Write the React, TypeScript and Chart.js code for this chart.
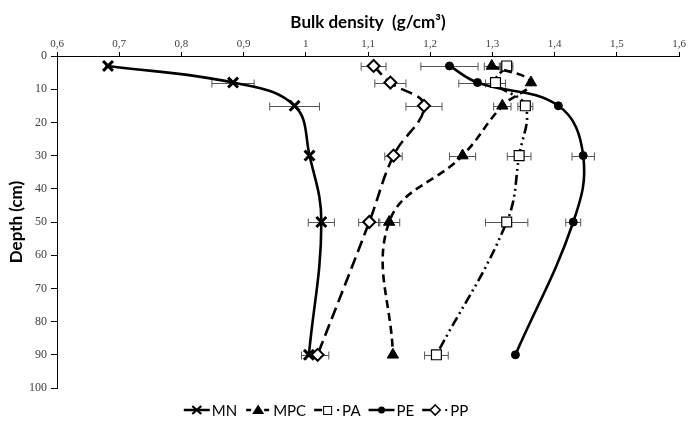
import React, { useEffect, useRef } from "react";
import { Chart, registerables } from "chart.js";

Chart.register(...registerables);

// ---------- data ----------
const depths = [3, 8, 15, 30, 50, 90];
const xTicks = [0.6, 0.7, 0.8, 0.9, 1.0, 1.1, 1.2, 1.3, 1.4, 1.5, 1.6];
const yTicks = [0, 10, 20, 30, 40, 50, 60, 70, 80, 90, 100];
const seriesNames = ["MN", "MPC", "PA", "PE", "PP"];

const mnDensity = [0.682, 0.883, 0.982, 1.006, 1.025, 1.005];
const mnError = [0.004, 0.034, 0.04, 0, 0.021, 0.012];
const mpcDensity = [1.299, 1.362, 1.316, 1.252, 1.134, 1.14];
const mpcError = [0.012, 0, 0.014, 0.021, 0.017, 0];
const paDensity = [1.323, 1.305, 1.353, 1.343, 1.323, 1.21];
const paError = [0.01, 0.016, 0.012, 0.019, 0.034, 0.019];
const peDensity = [1.231, 1.276, 1.406, 1.446, 1.43, 1.337];
const peError = [0.046, 0.03, 0, 0.018, 0.012, 0];
const ppDensity = [1.109, 1.136, 1.19, 1.141, 1.102, 1.019];
const ppError = [0.02, 0.025, 0.029, 0.014, 0.017, 0.018];

const densities = [mnDensity, mpcDensity, paDensity, peDensity, ppDensity];
const errors = [mnError, mpcError, paError, peError, ppError];

const fmt = (v: number) => String(Math.round(v * 10) / 10).replace(".", ",");

// ---------- plugins ----------
const errorBarPlugin = {
  id: "errorBars",
  beforeDatasetsDraw(chart: any) {
    const { ctx, scales } = chart;
    const xs = scales.x;
    const ys = scales.y;
    ctx.save();
    ctx.strokeStyle = "#555";
    ctx.lineWidth = 1;
    chart.data.datasets.forEach((ds: any) => {
      const errs: number[] = ds.errorValues || [];
      ds.data.forEach((p: any, i: number) => {
        const e = errs[i];
        if (!e) return;
        const py = Math.round(ys.getPixelForValue(p.y)) + 0.5;
        const x1 = xs.getPixelForValue(p.x - e);
        const x2 = xs.getPixelForValue(p.x + e);
        ctx.beginPath();
        ctx.moveTo(x1, py);
        ctx.lineTo(x2, py);
        ctx.moveTo(x1, py - 4);
        ctx.lineTo(x1, py + 4);
        ctx.moveTo(x2, py - 4);
        ctx.lineTo(x2, py + 4);
        ctx.stroke();
      });
    });
    ctx.restore();
  },
};

function drawSample(ctx: CanvasRenderingContext2D, idx: number, x: number, cy: number) {
  ctx.save();
  ctx.strokeStyle = "#000";
  ctx.fillStyle = "#000";
  ctx.lineWidth = 2.5;
  const w = 26;
  const cx = x + 13;
  if (idx === 0) {
    ctx.beginPath();
    ctx.moveTo(x, cy);
    ctx.lineTo(x + w, cy);
    ctx.stroke();
    ctx.lineWidth = 2.2;
    ctx.beginPath();
    ctx.moveTo(cx - 4.5, cy - 4);
    ctx.lineTo(cx + 4.5, cy + 4);
    ctx.moveTo(cx - 4.5, cy + 4);
    ctx.lineTo(cx + 4.5, cy - 4);
    ctx.stroke();
  } else if (idx === 1) {
    ctx.beginPath();
    ctx.moveTo(x + 1, cy);
    ctx.lineTo(x + 6, cy);
    ctx.moveTo(x + 19, cy);
    ctx.lineTo(x + 24, cy);
    ctx.stroke();
    ctx.beginPath();
    ctx.moveTo(cx, cy - 5.5);
    ctx.lineTo(cx + 6, cy + 4);
    ctx.lineTo(cx - 6, cy + 4);
    ctx.closePath();
    ctx.fill();
  } else if (idx === 2) {
    ctx.beginPath();
    ctx.moveTo(x, cy);
    ctx.lineTo(x + 8, cy);
    ctx.stroke();
    ctx.lineWidth = 1;
    ctx.fillStyle = "#fff";
    ctx.fillRect(cx - 4, cy - 4, 9, 9);
    ctx.strokeRect(cx - 4 + 0.5, cy - 4 + 0.5, 8, 8);
    ctx.fillStyle = "#000";
    ctx.fillRect(x + 23, cy - 1, 2, 2);
  } else if (idx === 3) {
    ctx.beginPath();
    ctx.moveTo(x, cy);
    ctx.lineTo(x + w, cy);
    ctx.stroke();
    ctx.beginPath();
    ctx.arc(cx, cy, 3.5, 0, Math.PI * 2);
    ctx.fill();
  } else {
    ctx.beginPath();
    ctx.moveTo(x, cy);
    ctx.lineTo(x + 8, cy);
    ctx.stroke();
    ctx.lineWidth = 1.6;
    ctx.fillStyle = "#fff";
    ctx.beginPath();
    ctx.moveTo(cx, cy - 5);
    ctx.lineTo(cx + 5, cy);
    ctx.lineTo(cx, cy + 5);
    ctx.lineTo(cx - 5, cy);
    ctx.closePath();
    ctx.fill();
    ctx.stroke();
    ctx.fillStyle = "#000";
    ctx.fillRect(x + 23, cy - 1, 2, 2);
  }
  ctx.restore();
}

const legendPlugin = {
  id: "customLegend",
  afterDraw(chart: any) {
    const { ctx } = chart;
    ctx.save();
    ctx.font = "15px Lato";
    ctx.textBaseline = "middle";
    ctx.fillStyle = "#000";
    const gapAfterSample = 2;
    const gapItems = 8;
    let total = 0;
    seriesNames.forEach((n, i) => {
      total += 26 + gapAfterSample + ctx.measureText(n).width + (i < seriesNames.length - 1 ? gapItems : 0);
    });
    const centerX = 326;
    const cy = 410;
    let x = centerX - total / 2;
    seriesNames.forEach((n, i) => {
      drawSample(ctx, i, x, cy);
      x += 26 + gapAfterSample;
      ctx.fillText(n, x, cy + 1);
      x += ctx.measureText(n).width + gapItems;
    });
    ctx.restore();
  },
};

// ---------- component ----------
export default function App() {
  const ref = useRef<HTMLCanvasElement | null>(null);

  useEffect(() => {
    if (!ref.current) return;
    const styles = [
      { pointStyle: "crossRot", pointRadius: 7, pointBorderWidth: 3, bg: "#000", dash: [] as number[] },
      { pointStyle: "triangle", pointRadius: 6.5, pointBorderWidth: 1, bg: "#000", dash: [8, 5] },
      { pointStyle: "rect", pointRadius: 7, pointBorderWidth: 1.2, bg: "#fff", dash: [10, 4, 2, 4, 2, 4] },
      { pointStyle: "circle", pointRadius: 4, pointBorderWidth: 1, bg: "#000", dash: [] as number[] },
      { pointStyle: "rectRot", pointRadius: 6, pointBorderWidth: 2, bg: "#fff", dash: [12, 6] },
    ];
    const datasets = seriesNames.map((name, k) => ({
      label: name,
      data: depths.map((d, i) => ({ x: densities[k][i], y: d })),
      errorValues: errors[k],
      showLine: true,
      fill: false,
      tension: 0.4,
      borderColor: "#000",
      borderWidth: 2.6,
      borderDash: styles[k].dash,
      pointStyle: styles[k].pointStyle,
      pointRadius: styles[k].pointRadius,
      pointBorderWidth: styles[k].pointBorderWidth,
      pointBackgroundColor: styles[k].bg,
      pointBorderColor: "#000",
    }));

    const chart = new Chart(ref.current, {
      type: "scatter",
      data: { datasets } as any,
      options: {
        animation: false,
        responsive: false,
        devicePixelRatio: 1,
        layout: { padding: { left: 0, top: 0, right: 9, bottom: 35 } },
        plugins: {
          legend: { display: false },
          tooltip: { enabled: false },
        },
        scales: {
          x: {
            type: "linear",
            position: "top",
            min: 0.6,
            max: 1.6,
            afterBuildTicks: (s: any) => {
              s.ticks = xTicks.map((v) => ({ value: v }));
            },
            afterFit: (s: any) => {
              s.height = 56;
            },
            ticks: {
              callback: (v: any) => fmt(Number(v)),
              font: { family: "Liberation Serif", size: 11 },
              color: "#404040",
              padding: 1,
              maxRotation: 0,
              autoSkip: false,
            },
            grid: { drawOnChartArea: false, drawTicks: true, tickLength: 4, color: "#000" },
            border: { display: true, color: "#000", width: 1 },
            title: {
              display: true,
              text: "Bulk density  (g/cm³)",
              font: { family: "Lato", size: 17, weight: "bold" },
              color: "#000",
              padding: { top: 12, bottom: 0 },
            },
          },
          y: {
            type: "linear",
            position: "left",
            reverse: true,
            min: 0,
            max: 100,
            afterBuildTicks: (s: any) => {
              s.ticks = yTicks.map((v) => ({ value: v }));
            },
            afterFit: (s: any) => {
              s.width = 57;
            },
            ticks: {
              font: { family: "Liberation Serif", size: 12 },
              color: "#404040",
              padding: 4,
              autoSkip: false,
            },
            grid: { drawOnChartArea: false, drawTicks: true, tickLength: 6, color: "#000" },
            border: { display: true, color: "#000", width: 1 },
            title: {
              display: true,
              text: "Depth (cm)",
              font: { family: "Lato", size: 17, weight: "bold" },
              color: "#000",
              padding: { top: 6, bottom: 0 },
            },
          },
        },
      },
      plugins: [errorBarPlugin, legendPlugin],
    } as any);

    return () => chart.destroy();
  }, []);

  return (
    <div style={{ position: "fixed", left: 0, top: 0, width: 689, height: 423, background: "#fff" }}>
      <canvas ref={ref} width={689} height={423} style={{ display: "block", width: 689, height: 423 }} />
    </div>
  );
}
